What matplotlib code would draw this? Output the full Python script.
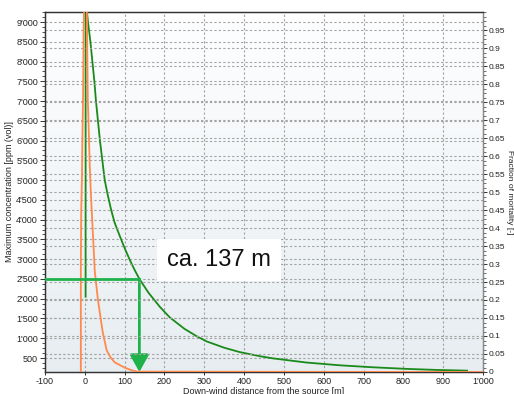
import numpy as np
import matplotlib
matplotlib.use("Agg")
import matplotlib.pyplot as plt
from matplotlib.ticker import MultipleLocator, FixedLocator, FuncFormatter

plt.rcParams['font.family'] = ['Liberation Sans', 'DejaVu Sans']

# Maximum concentration along the plume centre line [ppm (vol)]
conc_x = [2, 2, 5, 8, 14, 19, 24, 28, 33, 38, 44, 50, 57, 66, 75, 88, 100, 113,
          125, 137, 160, 188, 213, 250, 281, 306, 350, 389, 440, 473, 557, 641,
          724, 808, 884, 960]
conc_y = [2050, 9400, 9300, 9000, 8500, 8000, 7500, 7000, 6500, 6000, 5500, 5000,
          4650, 4250, 3920, 3580, 3280, 2980, 2730, 2500, 2150, 1800, 1530, 1240,
          1050, 920, 760, 650, 545, 490, 385, 315, 265, 225, 198, 180]

# Fraction of mortality [-]
mort_x = [-10, -10, -9, -7, -6, -4, -3, -2, 0, 5, 7.5, 12.5, 15, 25, 33, 45, 55,
          65, 75, 100, 115, 130, 1000]
mort_y = [0, 0.3, 0.45, 0.55, 0.65, 0.8, 0.95, 1.0, 1.02, 1.02, 0.76, 0.57, 0.5,
          0.28, 0.2, 0.11, 0.06, 0.04, 0.027, 0.012, 0.006, 0.001, 0.0]

threshold_ppm = 2500
threshold_dist = 137
label_text = "ca. 137 m"

x_ticks = list(range(-100, 1001, 100))
left_ticks = list(range(500, 9001, 500))
right_ticks = [round(0.05 * i, 2) for i in range(0, 20)]

xlim = (-100, 1000)
ylim_left = (146, 9253)
ylim_right = (0, 1.0)

W, H = 514, 394
fig = plt.figure(figsize=(W / 100, H / 100), dpi=100)
fig.patch.set_facecolor('white')
ax = fig.add_axes([45 / W, (H - 372) / H, 438 / W, 360 / H])
ax2 = ax.twinx()

# vertical background gradient, light at the top
grad = np.linspace(0, 1, 256).reshape(-1, 1)
top_c = np.array([0.995, 0.997, 1.0])
bot_c = np.array([0.905, 0.93, 0.945])
img = top_c * (1 - grad[..., None]) + bot_c * grad[..., None]
ax.imshow(img, extent=[xlim[0], xlim[1], ylim_left[0], ylim_left[1]],
          origin='upper', aspect='auto', zorder=0, interpolation='bilinear')

ax.set_xlim(*xlim)
ax.set_ylim(*ylim_left)
ax2.set_ylim(*ylim_right)

grid_kw = dict(color='#a2a2a2', lw=0.8, ls=(0, (2, 2)))
for xv in x_ticks:
    ax.axvline(xv, zorder=1, **grid_kw)
for yv in left_ticks:
    ax.axhline(yv, zorder=1, **grid_kw)
for yv in right_ticks[1:]:
    ax2.axhline(yv, zorder=1, **grid_kw)

green_dark = '#1a8a1a'
green_bright = '#20b24a'
orange = '#ff8a4c'

ax.plot(conc_x, conc_y, color=green_dark, lw=1.3, zorder=3)
ax2.plot(mort_x, mort_y, color=orange, lw=1.3, zorder=3)

# threshold construction line and arrow
thr_frac = (threshold_ppm - ylim_left[0]) / (ylim_left[1] - ylim_left[0])
ax2.plot([xlim[0], threshold_dist], [thr_frac, thr_frac],
         color=green_bright, lw=2, zorder=4)
ax.annotate('', xy=(threshold_dist, ylim_left[0]), xytext=(threshold_dist, threshold_ppm),
            arrowprops=dict(arrowstyle='-|>,head_width=0.29,head_length=0.52',
                            mutation_scale=20, color=green_bright, lw=2,
                            shrinkA=0, shrinkB=0), zorder=5)

ax2.text(0.397, 0.311, label_text, transform=ax2.transAxes, fontsize=17,
         ha='center', va='center', color='#111111', zorder=6,
         bbox=dict(boxstyle='square,pad=0.42', fc='white', ec='none'))

# ticks and labels
thousands = FuncFormatter(lambda v, p: f"{int(round(v)):,}".replace(',', "'"))
ax.xaxis.set_major_locator(FixedLocator(x_ticks))
ax.xaxis.set_major_formatter(thousands)
ax.yaxis.set_major_locator(FixedLocator(left_ticks))
ax.yaxis.set_major_formatter(thousands)
ax.yaxis.set_minor_locator(MultipleLocator(125))
ax2.yaxis.set_major_locator(FixedLocator(right_ticks))
ax2.yaxis.set_major_formatter(FuncFormatter(lambda v, p: f"{v:.2f}".rstrip('0').rstrip('.')))
ax2.yaxis.set_minor_locator(MultipleLocator(0.0125))

tick_kw = dict(colors='#333333', labelcolor='#222222')
ax.tick_params(axis='y', which='major', length=3.5, width=0.7, pad=1.5, labelsize=6.5, **tick_kw)
ax.tick_params(axis='x', which='major', length=2.5, width=0.7, pad=1, labelsize=6.5, **tick_kw)
ax.tick_params(axis='y', which='minor', length=2, width=0.6, color='#333333')
ax2.tick_params(axis='y', which='major', length=3, width=0.7, pad=1, labelsize=6, **tick_kw)
ax2.tick_params(axis='y', which='minor', length=2, width=0.6, color='#555555')

lab_kw = dict(color='#222222', ha='center', va='center')
fig.text(10 / W, 1 - 192 / H, 'Maximum concentration [ppm (vol)]', rotation=90,
         fontsize=6.5, **lab_kw)
fig.text(510 / W, 1 - 192 / H, 'Fraction of mortality [-]', rotation=-90,
         fontsize=6, **lab_kw)
fig.text(264 / W, 1 - 391 / H, 'Down-wind distance from the source [m]',
         fontsize=6.5, **lab_kw)

for a in (ax, ax2):
    for side in ('left', 'bottom', 'top'):
        a.spines[side].set_color('#333333')
        a.spines[side].set_linewidth(0.9)
    a.spines['right'].set_color('#8a8a8a')
    a.spines['right'].set_linewidth(0.9)

fig.savefig('out.png', dpi=100, facecolor='white')
